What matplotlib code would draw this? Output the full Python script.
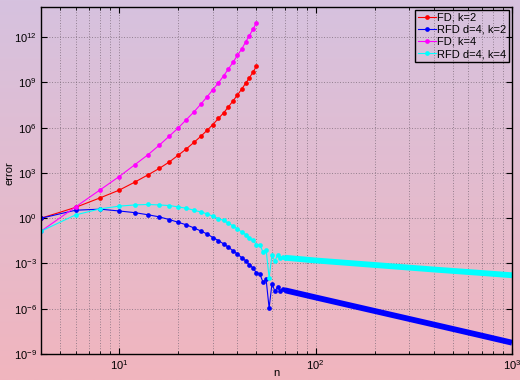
import numpy as np
import matplotlib
matplotlib.use("Agg")
import matplotlib.pyplot as plt
from matplotlib.ticker import LogLocator, NullFormatter

plt.rcParams['font.family'] = ['Liberation Sans', 'DejaVu Sans']
plt.rcParams['mathtext.default'] = 'regular'

# ---- data (log10 of error) ----
n_fd = [4, 6, 8, 10, 12, 14, 16, 18, 20, 22, 24, 26, 28, 30, 32, 34, 36, 38,
        40, 42, 44, 46, 48, 50]
fd_k2 = [0.0, 0.72, 1.35, 1.86, 2.39, 2.87, 3.30, 3.73, 4.18, 4.60, 5.02, 5.42,
         5.82, 6.21, 6.61, 6.98, 7.38, 7.78, 8.16, 8.55, 8.93, 9.30, 9.68, 10.08]
fd_k4 = [-0.86, 0.75, 1.88, 2.76, 3.54, 4.20, 4.84, 5.44, 5.99, 6.54, 7.04, 7.55,
         8.04, 8.52, 8.97, 9.43, 9.89, 10.34, 10.79, 11.20, 11.67, 12.10, 12.53, 12.95]

n_rfd = [4, 6, 8, 10, 12, 14, 16, 18, 20, 22, 24, 26, 28, 30, 32, 34, 36, 38,
         40, 42, 44, 46, 48, 50, 52, 54, 56, 58, 60, 62, 64, 66, 68, 70]
rfd_k2 = [0.0, 0.53, 0.60, 0.48, 0.37, 0.23, 0.09, -0.09, -0.27, -0.44, -0.64,
          -0.84, -1.04, -1.28, -1.48, -1.70, -1.92, -2.16, -2.37, -2.61, -2.81,
          -3.07, -3.30, -3.62, -3.69, -4.24, -4.06, -5.95, -4.33, -4.84, -4.58,
          -4.80, -4.66, -4.78]
rfd_k4 = [-0.86, 0.22, 0.62, 0.80, 0.88, 0.91, 0.88, 0.84, 0.75, 0.66, 0.53,
          0.42, 0.29, 0.13, -0.02, -0.15, -0.33, -0.51, -0.71, -0.91, -1.08,
          -1.33, -1.46, -1.75, -1.75, -2.25, -2.08, -3.96, -2.41, -2.85, -2.45,
          -2.67, -2.54, -2.62]

# dense tail (markers merge into a band)
n_tail = [70, 100, 200, 400, 700, 1000]
rfd_k2_tail = [-4.78, -5.25, -6.15, -7.05, -7.78, -8.25]
rfd_k4_tail = [-2.62, -2.80, -3.10, -3.40, -3.63, -3.78]

labels = ['FD, k=2', 'RFD d=4, k=2', 'FD, k=4', 'RFD d=4, k=4']
colors = ['#ff0000', '#0000ff', '#ff00ff', '#00ffff']

fig = plt.figure(figsize=(5.2, 3.8), dpi=100)

# background gradient
bg = fig.add_axes([0, 0, 1, 1], zorder=-10)
top = np.array([214, 194, 223]) / 255.0
bot = np.array([241, 181, 190]) / 255.0
t = np.linspace(0, 1, 256)[:, None]
grad = (top[None, :] * (1 - t) + bot[None, :] * t)[:, None, :]
bg.imshow(grad, aspect='auto', extent=[0, 1, 0, 1])
bg.axis('off')

ax = fig.add_axes([41 / 520, 26 / 380, 471 / 520, 347 / 380])
ax.set_facecolor('none')

def p(v):
    return [10.0 ** x for x in v]

lw = 0.8
ms = 3.4
ax.plot(n_fd, p(fd_k2), '-o', color=colors[0], lw=lw, ms=ms, mew=0, label=labels[0])
ax.plot(n_rfd, p(rfd_k2), '-o', color=colors[1], lw=lw, ms=ms, mew=0, label=labels[1])
ax.plot(n_tail, p(rfd_k2_tail), '-', color=colors[1], lw=4.2, solid_capstyle='butt')
ax.plot(n_fd, p(fd_k4), '-o', color=colors[2], lw=lw, ms=ms, mew=0, label=labels[2])
ax.plot(n_rfd, p(rfd_k4), '-o', color=colors[3], lw=lw, ms=ms, mew=0, label=labels[3])
ax.plot(n_tail, p(rfd_k4_tail), '-', color=colors[3], lw=4.2, solid_capstyle='butt')

ax.set_xscale('log')
ax.set_yscale('log')
ax.set_xlim(4, 1000)
ax.set_ylim(1e-9, 1e14)
ax.set_yticks([10.0 ** k for k in range(-9, 13, 3)])
ax.yaxis.set_minor_locator(plt.NullLocator())
ax.xaxis.set_minor_locator(LogLocator(base=10, subs=np.arange(2, 10)))
ax.xaxis.set_minor_formatter(NullFormatter())

gkw = dict(color='#7a6a78', ls=(0, (1, 2.2)), lw=0.6)
ax.grid(True, which='major', axis='both', **gkw)
ax.grid(True, which='minor', axis='x', **gkw)

ax.tick_params(which='both', direction='in', top=True, right=True, labelsize=8, pad=3)
ax.tick_params(which='major', length=4, width=0.8)
ax.tick_params(which='minor', length=2.5, width=0.6)
for s in ax.spines.values():
    s.set_linewidth(1.0)

ax.set_xlabel('n', fontsize=8, labelpad=-2.5)
ax.set_ylabel('error', fontsize=8)
ax.yaxis.set_label_coords(-0.057, 0.52)

leg = ax.legend(loc='upper right', fontsize=8, frameon=True, fancybox=False,
                framealpha=1, facecolor='none', edgecolor='black',
                borderaxespad=0.25, borderpad=0.25, labelspacing=0.2,
                handlelength=1.6, handletextpad=0.15)
leg.get_frame().set_linewidth(1.0)

fig.savefig('out.png', dpi=100)
